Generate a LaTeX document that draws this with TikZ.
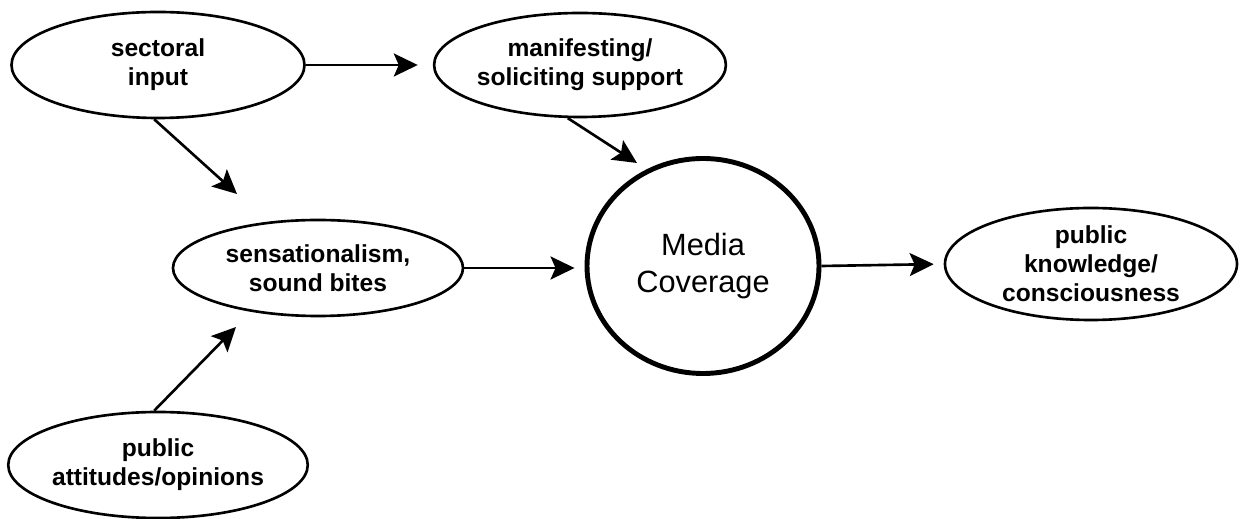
\documentclass[tikz,border=0pt]{standalone}
\usepackage{fontspec}
\setmainfont{Liberation Sans}
\usetikzlibrary{shapes.geometric,arrows.meta}
\tikzset{
  bubble/.style={ellipse, draw, line width=1.5pt, inner sep=0pt, align=center,
    font=\fontsize{14}{16.5}\selectfont\bfseries},
  hub/.style={ellipse, draw, line width=2.8pt, inner sep=0pt, align=center,
    font=\fontsize{17.5}{21}\selectfont},
  arr/.style={line width=1.5pt, -{Stealth[length=0.48cm,width=0.46cm,inset=0.1cm]}}
}
\begin{document}
\begin{tikzpicture}[x=0.02cm,y=-0.02cm]
  \useasboundingbox (0,0) rectangle (1240,519);
  % nodes
  \node[bubble, minimum width=293*0.02cm, minimum height=106*0.02cm] (sec) at (158,65) {sectoral\\input};
  \node[bubble, minimum width=286*0.02cm, minimum height=104*0.02cm] (man) at (580,65) {manifesting/\\soliciting support};
  \node[bubble, minimum width=290*0.02cm, minimum height=96*0.02cm] (sen) at (318,268) {sensationalism,\\sound bites};
  \node[hub, minimum width=232*0.02cm, minimum height=215*0.02cm] (med) at (703,266) {Media\\Coverage};
  \node[bubble, minimum width=292*0.02cm, minimum height=112*0.02cm] (pk) at (1091,264) {public\\knowledge/\\consciousness};
  \node[bubble, minimum width=293*0.02cm, minimum height=106*0.02cm] (pa) at (158,465) {public\\attitudes/opinions};
  % arrow tips that stop short of their targets
  \coordinate (t1) at (237,194);
  \coordinate (t2) at (637,163);
  \coordinate (t4) at (236,327);
  % connectors
  \draw[arr, shorten >=0.3cm] (sec.east) -- (man.west);
  \draw[arr] (sec.266) -- (t1);
  \draw[arr] (man.257) -- (t2);
  \draw[arr, shorten >=0.2cm] (sen.east) -- (sen.east -| med.west);
  \draw[arr, shorten >=0.2cm] (med.east) -- (pk.west);
  \draw[arr] (pa.94) -- (t4);
\end{tikzpicture}
\end{document}
